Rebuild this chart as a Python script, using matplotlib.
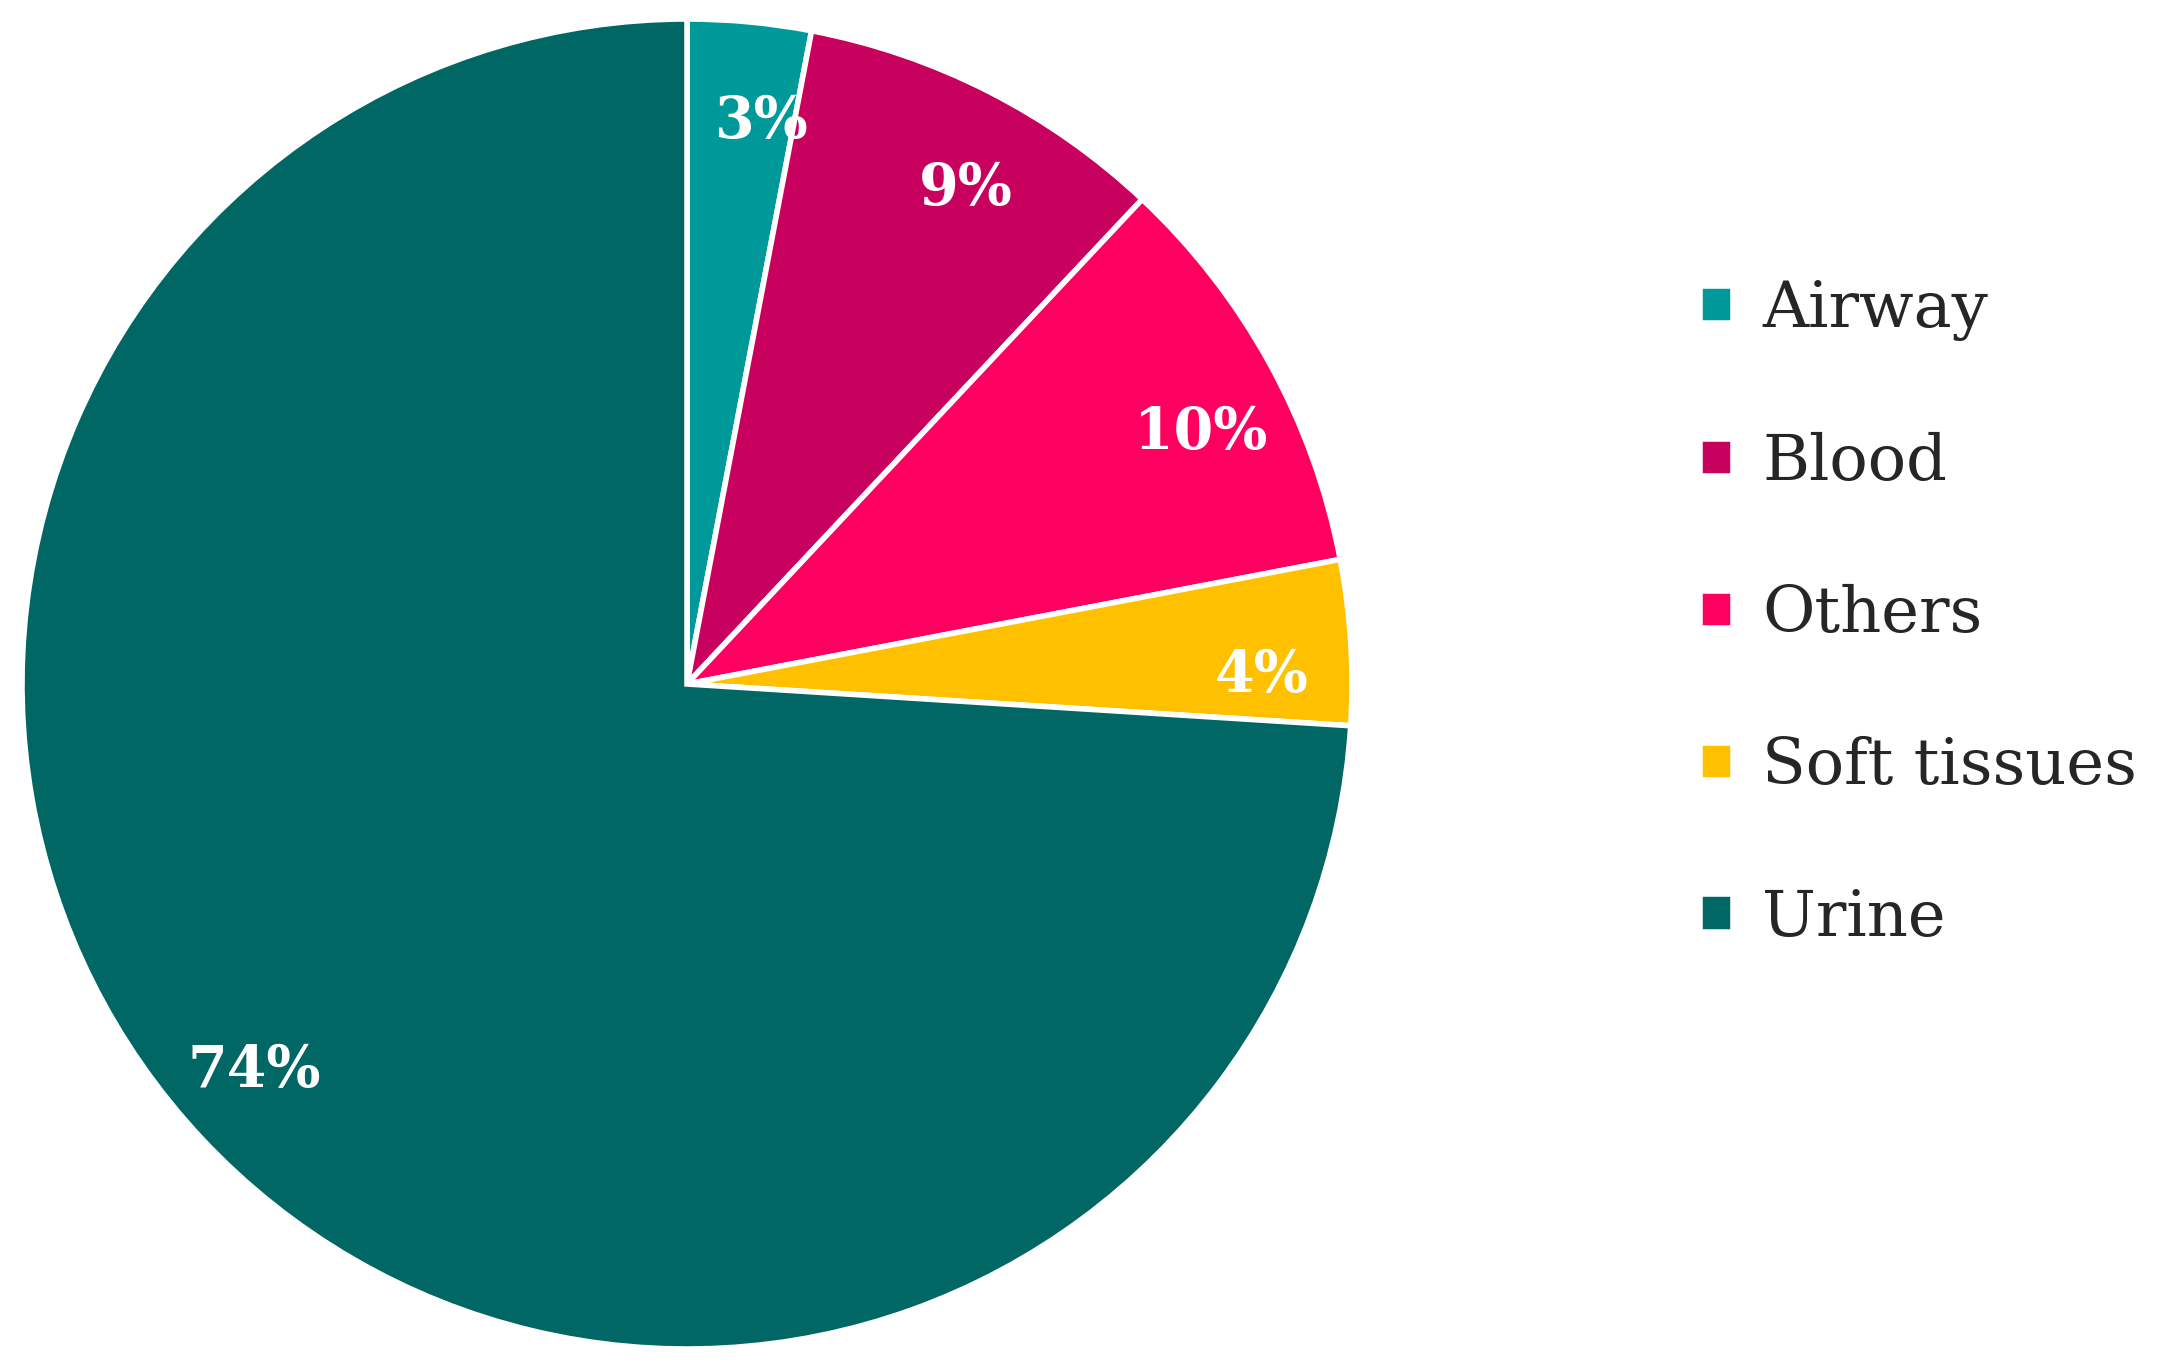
import matplotlib
matplotlib.use('Agg')
import numpy as np
import matplotlib.pyplot as plt

# sample sources, share in %
sources = ['Airway', 'Blood', 'Others', 'Soft tissues', 'Urine']
shares  = [3, 9, 10, 4, 74]
colors  = ['#00999A', '#C8005E', '#FF0060', '#FFC000', '#006765']

plt.rcParams['font.family'] = ['DejaVu Serif']

W, H = 2157, 1364
fig = plt.figure(figsize=(W / 100, H / 100), dpi=100)

# pie centre (687, 684) px, radius 665 px
cx, cy, r = 687, 684, 665
ax = fig.add_axes([(cx - r) / W, (H - cy - r) / H, 2 * r / W, 2 * r / H])

wedges, texts, autotexts = ax.pie(
    shares,
    colors=colors,
    startangle=90,
    counterclock=False,
    autopct='%d%%',
    pctdistance=0.87,
    wedgeprops=dict(edgecolor='white', linewidth=4),
    textprops=dict(color='white', fontsize=41, fontweight='bold'),
)

# labels sit a little clockwise of the wedge middle in the original
for w, t in zip(wedges, autotexts):
    mid = np.deg2rad((w.theta1 + w.theta2) / 2 - 2)
    t.set_position((0.865 * np.cos(mid), 0.865 * np.sin(mid) - 0.012))

ax.set_aspect('equal')
ax.set_xlim(-1, 1)
ax.set_ylim(-1, 1)

fig.legend(
    wedges, sources,
    loc='center left',
    bbox_to_anchor=(1700 / W, 1 - 614 / H),
    frameon=False,
    fontsize=46,
    handlelength=0.52, handleheight=0.52,
    handletextpad=0.45,
    labelspacing=1.42,
    borderpad=0, borderaxespad=0,
    labelcolor='#262626',
)

fig.savefig('out.png', dpi=100, facecolor='white')
